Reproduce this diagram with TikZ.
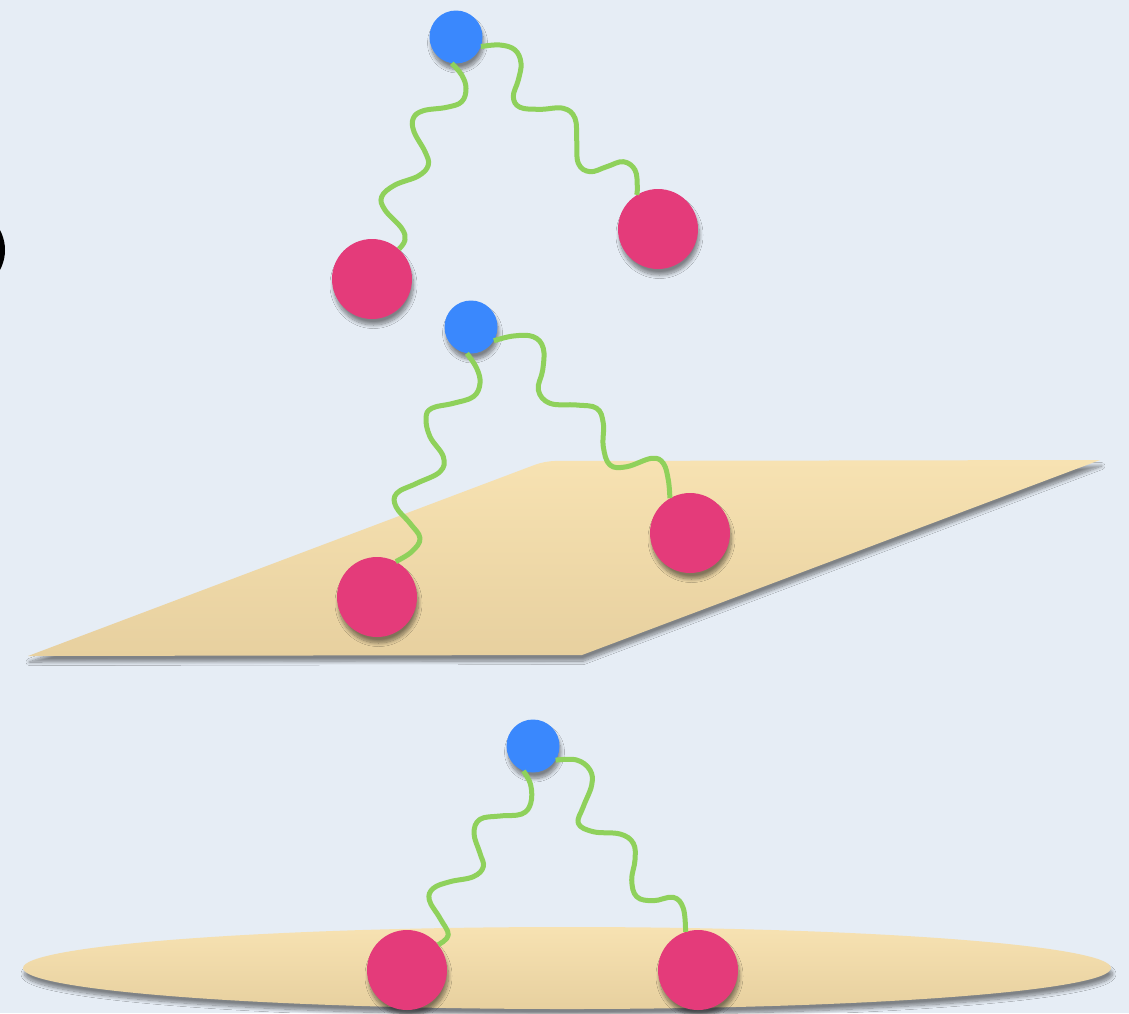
\documentclass[tikz,border=0pt]{standalone}
\usetikzlibrary{shadows.blur}

\definecolor{paper}{HTML}{E6EDF5}
\definecolor{bead}{HTML}{E43B7A}
\definecolor{head}{HTML}{3A88FD}
\definecolor{linker}{HTML}{8FD15B}
\definecolor{sheetTop}{HTML}{F7E2B2}
\definecolor{sheetBot}{HTML}{E7D09F}

\tikzset{
  softshadow/.style={blur shadow={shadow xshift=1.5pt, shadow yshift=-6pt,
      shadow blur radius=3.5pt, shadow blur steps=10, shadow opacity=45}},
  headball/.style={circle, fill=head, minimum size=53pt, inner sep=0pt, softshadow},
  beadball/.style={circle, fill=bead, minimum size=80pt, inner sep=0pt, softshadow},
  linkerline/.style={draw=linker, line width=5pt, line cap=butt, line join=round},
  sheet/.style={top color=sheetTop, bottom color=sheetBot, softshadow},
}

\begin{document}
\begin{tikzpicture}[x=1pt, y=-1pt]
\useasboundingbox (0,0) rectangle (1129,1013);

\fill[paper] (0,0) rectangle (1129,1013);
\fill[black] (-37,250) circle[radius=42];
% tilted plane
\path[sheet] (28,656) [rounded corners=10pt] -- (545,461) [sharp corners]
     -- (1100,460) -- (582,655) -- cycle;
% flat disc seen edge-on
\path[sheet] (567,968) ellipse[x radius=544, y radius=41];

% free molecule
\node[headball] (t0) at (456,37) {};
\node[beadball] (t1) at (372,279) {};
\node[beadball] (t2) at (658,229) {};

% molecule above the tilted plane
\node[headball] (m0) at (471,327) {};
\node[beadball] (m1) at (377,597) {};
\node[beadball] (m2) at (690,533) {};

% molecule on the disc
\node[headball] (b0) at (533,746) {};
\node[beadball] (b1) at (407,970) {};
\node[beadball] (b2) at (698,970) {};

% wavy linkers, head to bead
\draw[linkerline] plot[smooth, tension=0.65] coordinates {
  (t0.-99) (461.7,75) (466,88.3) (461.7,101.7) (446.7,107.3) (423.3,110.7)
  (413.3,118.3) (414,131.7) (425,151.7) (428.3,165) (418.3,176) (395,185)
  (381.7,196.7) (385,210) (401.7,228.3) (405,240) (t1.48)};
\draw[linkerline] plot[smooth, tension=0.65] coordinates {
  (t0.-21) (500,45) (515,50) (521,63.3) (518.3,80) (513.3,96.7) (520,107.3)
  (540,109.3) (563.3,108.3) (575,118.3) (576.7,140) (578.3,163.3) (590,171.7)
  (606.7,166.7) (623.3,161.7) (635,170) (637.3,186.7) (t2.122)};

\draw[linkerline] plot[smooth, tension=0.65] coordinates {
  (m0.-99) (476.7,368.3) (480,383.3) (473.3,396.7) (453.3,403.3) (431.7,408.3)
  (426,418.3) (430,436.7) (443.3,456.7) (440,471.7) (416.7,483.3) (396.7,493.3)
  (396,506.7) (410,523.3) (420,538.3) (411.7,551.7) (m1.62)};
\draw[linkerline] plot[smooth, tension=0.65] coordinates {
  (m0.-31) (513.3,336) (533.3,336.7) (543.3,348.3) (542.7,370) (538.3,390)
  (550,403.3) (576.7,405) (596.7,408.3) (603.3,423.3) (603.3,446.7) (610,465)
  (626.7,466.7) (651.7,458.3) (663.3,463.3) (668.3,480) (m2.120)};

\draw[linkerline] plot[smooth, tension=0.65] coordinates {
  (b0.-111) (530.7,785) (530.7,803.3) (521.7,814) (500,816) (480,819.3)
  (474,833.3) (480,853.3) (483.3,866.7) (473.3,876.7) (450,881.7) (433.3,888.3)
  (429.3,900) (440,918.3) (448.3,935) (b1.39)};
\draw[linkerline] plot[smooth, tension=0.65] coordinates {
  (b0.-32) (576.7,760) (590,770) (591.7,785) (583.3,806.7) (578.3,823.3)
  (593.3,831.7) (620,834) (633.3,843.3) (635,860) (631.7,880) (636.7,896.7)
  (653.3,900.7) (673.3,897.3) (683.3,908.3) (b2.108)};
\end{tikzpicture}
\end{document}
